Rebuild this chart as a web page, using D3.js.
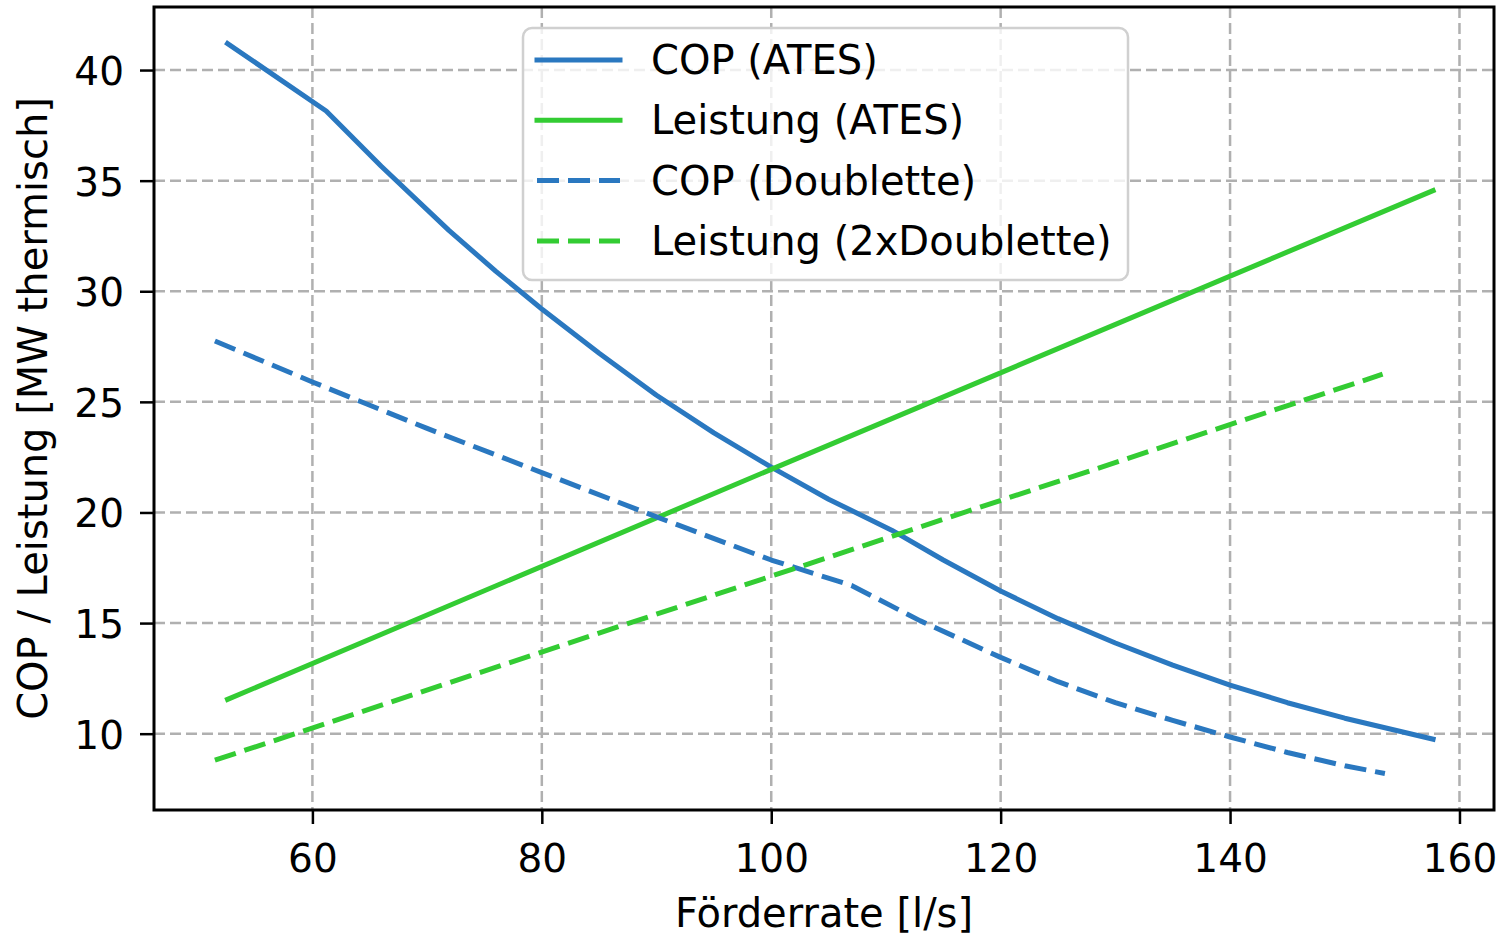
<!DOCTYPE html>
<html>
<head>
<meta charset="utf-8">
<script src="https://cdn.jsdelivr.net/npm/d3@7"></script>
<style>
  body { margin: 0; background: #fff; }
  svg { font-family: "DejaVu Sans", sans-serif; }
</style>
</head>
<body>
<div id="chart"></div>
<script>
// values
const copAtes = [
  [52.6, 41.2], [61.2, 38.15], [66, 35.65], [71.9, 32.75], [76, 30.9],
  [80, 29.2], [85, 27.2], [90, 25.3], [95, 23.6], [100, 22.05],
  [105, 20.6], [110.5, 19.2], [115, 17.85], [120, 16.45], [125, 15.2],
  [130, 14.1], [135, 13.1], [140, 12.2], [145, 11.4], [150, 10.7],
  [157.7, 9.75]
];
const leistungAtes = [[52.6, 11.55], [100, 21.95], [157.7, 34.55]];
const copDoublette = [
  [51.5, 27.75], [60, 25.9], [70, 23.8], [80, 21.8], [90, 19.8],
  [100, 17.85], [107, 16.7], [113, 15.1], [120, 13.45], [125, 12.35],
  [130, 11.4], [135, 10.6], [140, 9.85], [145, 9.15], [150, 8.55],
  [153.5, 8.2]
];
const leistung2xDoublette = [[51.5, 8.8], [100, 17.12], [153.3, 26.25]];

const seriesNames = ['COP (ATES)', 'Leistung (ATES)', 'COP (Doublette)', 'Leistung (2xDoublette)'];
const xTicks = [60, 80, 100, 120, 140, 160];
const yTicks = [10, 15, 20, 25, 30, 35, 40];
const xLabel = 'Förderrate [l/s]';
const yLabel = 'COP / Leistung [MW thermisch]';

const blue = '#2a78c0';
const green = '#33cc33';
const series = [
  { name: seriesNames[0], data: copAtes, color: blue, dashed: false },
  { name: seriesNames[1], data: leistungAtes, color: green, dashed: false },
  { name: seriesNames[2], data: copDoublette, color: blue, dashed: true },
  { name: seriesNames[3], data: leistung2xDoublette, color: green, dashed: true }
];

const width = 1505, height = 937;
const margin = { left: 154, top: 7, right: 11, bottom: 127 };
const innerW = width - margin.left - margin.right;
const innerH = height - margin.top - margin.bottom;
const tickFont = 39;
const labelFont = 40;

// matplotlib style 5% margins around the data
const allPts = series.flatMap(s => s.data);
const [xMin, xMax] = d3.extent(allPts, d => d[0]);
const [yMin, yMax] = d3.extent(allPts, d => d[1]);
const xPad = (xMax - xMin) * 0.05, yPad = (yMax - yMin) * 0.05;

const x = d3.scaleLinear().domain([xMin - xPad, xMax + xPad]).range([0, innerW]);
const y = d3.scaleLinear().domain([yMin - yPad, yMax + yPad]).range([innerH, 0]);

const svg = d3.select('#chart').append('svg')
  .attr('width', width).attr('height', height);
const g = svg.append('g').attr('transform', `translate(${margin.left},${margin.top})`);

// grid
const grid = g.append('g').attr('stroke', '#b0b0b0').attr('stroke-width', 2.5)
  .attr('stroke-dasharray', '11,5');
grid.selectAll('.gx').data(xTicks).enter().append('line')
  .attr('x1', d => x(d)).attr('x2', d => x(d)).attr('y1', 0).attr('y2', innerH);
grid.selectAll('.gy').data(yTicks).enter().append('line')
  .attr('y1', d => y(d)).attr('y2', d => y(d)).attr('x1', 0).attr('x2', innerW);

// data lines
const line = d3.line().x(d => x(d[0])).y(d => y(d[1]));
series.forEach(s => {
  g.append('path')
    .datum(s.data)
    .attr('d', line)
    .attr('fill', 'none')
    .attr('stroke', s.color)
    .attr('stroke-width', 5)
    .attr('stroke-linejoin', 'round')
    .attr('stroke-linecap', s.dashed ? 'butt' : 'square')
    .attr('stroke-dasharray', s.dashed ? '22,9' : null);
});

// axes
const xAxis = g.append('g').attr('transform', `translate(0,${innerH})`)
  .call(d3.axisBottom(x).tickValues(xTicks).tickSize(14).tickSizeOuter(0).tickPadding(20));
const yAxis = g.append('g')
  .call(d3.axisLeft(y).tickValues(yTicks).tickSize(14).tickSizeOuter(0).tickPadding(16));
[xAxis, yAxis].forEach(ax => {
  ax.select('.domain').remove();
  ax.selectAll('.tick line').attr('stroke', '#000').attr('stroke-width', 2.5);
  ax.selectAll('.tick text').attr('font-size', tickFont).attr('fill', '#000')
    .attr('font-family', '"DejaVu Sans", sans-serif');
});
yAxis.selectAll('.tick text').attr('dy', '0.37em');

// frame
g.append('rect').attr('width', innerW).attr('height', innerH)
  .attr('fill', 'none').attr('stroke', '#000').attr('stroke-width', 3);

// axis labels
svg.append('text')
  .attr('x', margin.left + innerW / 2).attr('y', 927)
  .attr('text-anchor', 'middle').attr('font-size', labelFont)
  .text(xLabel);
svg.append('text')
  .attr('transform', `translate(47,${margin.top + innerH / 2}) rotate(-90)`)
  .attr('text-anchor', 'middle').attr('font-size', labelFont)
  .text(yLabel);

// legend
const legend = svg.append('g').attr('transform', 'translate(523,28)');
legend.append('rect')
  .attr('width', 605).attr('height', 252).attr('rx', 9)
  .attr('fill', '#fff').attr('fill-opacity', 0.8)
  .attr('stroke', '#d0d0d0').attr('stroke-width', 2.5);
series.forEach((s, i) => {
  const ly = 32 + i * 60.3;
  legend.append('line')
    .attr('x1', 14).attr('x2', 97).attr('y1', ly).attr('y2', ly)
    .attr('stroke', s.color).attr('stroke-width', 5)
    .attr('stroke-linecap', s.dashed ? 'butt' : 'square')
    .attr('stroke-dasharray', s.dashed ? '22,9' : null);
  legend.append('text')
    .attr('x', 128).attr('y', ly + 14)
    .attr('font-size', labelFont).attr('fill', '#000')
    .text(s.name);
});
</script>
</body>
</html>
